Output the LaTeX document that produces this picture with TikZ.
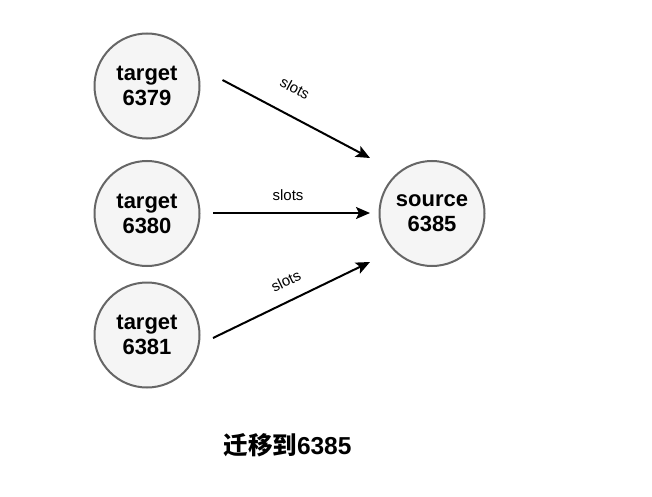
\documentclass[tikz,border=0pt]{standalone}
\usepackage{fontspec}
\setmainfont{Liberation Sans}
\newfontfamily\cjk{Noto Sans CJK SC}
\usetikzlibrary{arrows.meta}
\definecolor{nodefill}{HTML}{F5F5F5}
\definecolor{nodeline}{HTML}{666666}
\begin{document}
\begin{tikzpicture}[x=1pt,y=-1pt,
  ball/.style={circle, draw=nodeline, fill=nodefill, line width=2pt, minimum size=105pt, inner sep=0pt, align=center, font=\fontsize{22}{25}\selectfont\bfseries},
  conn/.style={line width=2pt, -{Stealth[length=14pt,width=12pt,inset=3pt]}},
  lbl/.style={font=\fontsize{15}{17}\selectfont, inner sep=0pt}]
\useasboundingbox (0,0) rectangle (652,497);
\node[ball] (t1) at (147,86) {target\\6379};
\node[ball] (t2) at (147,213.5) {target\\6380};
\node[ball] (t3) at (147,335) {target\\6381};
\node[ball] (src) at (432,213.5) {source\\6385};
\coordinate (a1s) at (222.5,80);
\coordinate (a1e) at (370,158);
\coordinate (a2s) at (213,213);
\coordinate (a2e) at (370,213);
\coordinate (a3s) at (213,338);
\coordinate (a3e) at (370,262);
\draw[conn] (a1s) -- (a1e);
\draw[conn] (a2s) -- (a2e);
\draw[conn] (a3s) -- (a3e);
\node[lbl, rotate=-28] (l1) at (295,88) {slots};
\node[lbl] (l2) at (288,195) {slots};
\node[lbl, rotate=26] (l3) at (286,281) {slots};
\node[font=\fontsize{24.5}{28}\selectfont\bfseries, inner sep=0pt] (cap) at (287.5,445) {{\cjk 迁移到}6385};
\end{tikzpicture}
\end{document}
